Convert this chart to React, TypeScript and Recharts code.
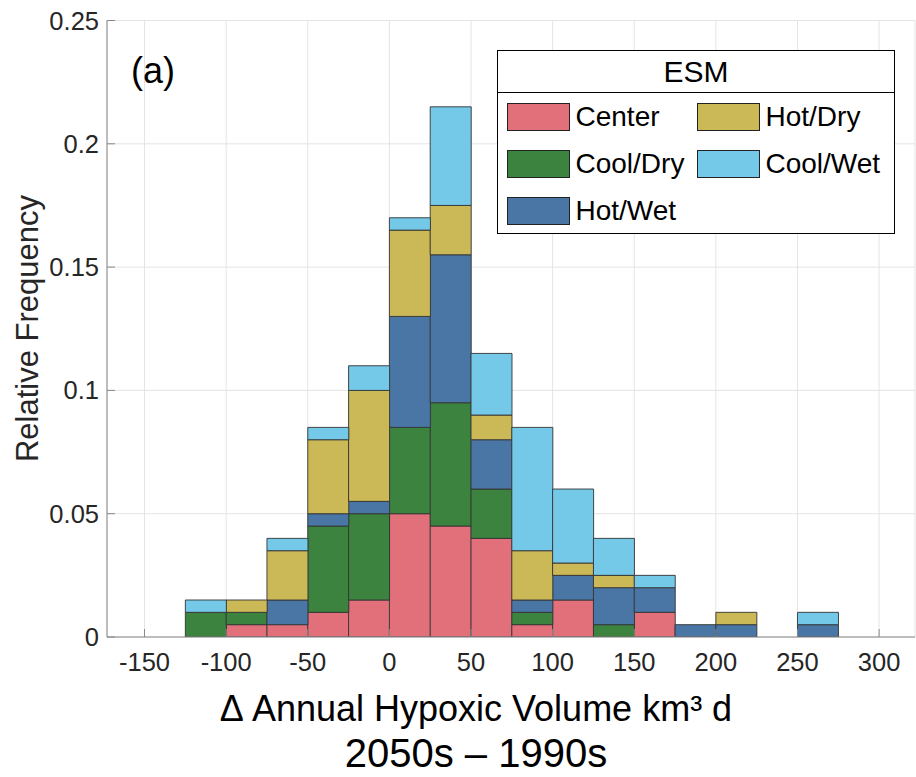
import { BarChart, Bar, XAxis, YAxis, CartesianGrid, Legend } from 'recharts';

// histogram bins (centres, bin width 25)
const binCenters = [-112.5, -87.5, -62.5, -37.5, -12.5, 12.5, 37.5, 62.5, 87.5, 112.5, 137.5, 162.5, 187.5, 212.5, 237.5, 262.5];

// relative frequency per ESM, stacked bottom -> top
const center = [0, 0.005, 0.005, 0.01, 0.015, 0.05, 0.045, 0.04, 0.005, 0.015, 0, 0.01, 0, 0, 0, 0];
const coolDry = [0.01, 0.005, 0, 0.035, 0.035, 0.035, 0.05, 0.02, 0.005, 0, 0.005, 0, 0, 0, 0, 0];
const hotWet = [0, 0, 0.01, 0.005, 0.005, 0.045, 0.06, 0.02, 0.005, 0.01, 0.015, 0.01, 0.005, 0.005, 0, 0.005];
const hotDry = [0, 0.005, 0.02, 0.03, 0.045, 0.035, 0.02, 0.01, 0.02, 0.005, 0.005, 0, 0, 0.005, 0, 0];
const coolWet = [0.005, 0, 0.005, 0.005, 0.01, 0.005, 0.04, 0.025, 0.05, 0.03, 0.015, 0.005, 0, 0, 0, 0.005];

const xTicks = [-150, -100, -50, 0, 50, 100, 150, 200, 250, 300];
const yTicks = [0, 0.05, 0.1, 0.15, 0.2, 0.25];

const SERIES = [
  { key: 'center', name: 'Center', color: '#E2707A' },
  { key: 'coolDry', name: 'Cool/Dry', color: '#3B833E' },
  { key: 'hotWet', name: 'Hot/Wet', color: '#4A76A6' },
  { key: 'hotDry', name: 'Hot/Dry', color: '#CBB958' },
  { key: 'coolWet', name: 'Cool/Wet', color: '#75C9E8' },
];

const data = binCenters.map((x, i) => ({
  x,
  center: center[i],
  coolDry: coolDry[i],
  hotWet: hotWet[i],
  hotDry: hotDry[i],
  coolWet: coolWet[i],
}));

const FONT = '"Liberation Sans", Arial, Helvetica, sans-serif';
const AXIS = '#888888';
const TICK_TEXT = { fontSize: 25.5, fill: '#262626', fontFamily: FONT };

const EsmLegend = () => (
  <div style={{ width: 398, height: 184, border: '1.5px solid #000', background: '#fff', boxSizing: 'border-box', fontFamily: FONT, color: '#000' }}>
    <div style={{ height: 42, borderBottom: '1.5px solid #000', boxSizing: 'border-box', display: 'flex', alignItems: 'center', justifyContent: 'center', fontSize: 30 }}>
      ESM
    </div>
    <div style={{ display: 'grid', gridTemplateColumns: '190px 190px', gridTemplateRows: 'repeat(3, 47px)', gridAutoFlow: 'column', paddingLeft: 8.5 }}>
      {SERIES.map((s) => (
        <div key={s.key} style={{ display: 'flex', alignItems: 'center' }}>
          <span style={{ width: 63, height: 28, background: s.color, border: '1.4px solid #222', boxSizing: 'border-box', flex: 'none' }} />
          <span style={{ marginLeft: 6, fontSize: 28, whiteSpace: 'nowrap' }}>{s.name}</span>
        </div>
      ))}
    </div>
  </div>
);

const XTitle = () => (
  <g style={{ fontFamily: FONT }} fill="#000">
    <text x={476} y={721} textAnchor="middle" fontSize={36}>
      Δ Annual Hypoxic Volume km³ d
    </text>
    <text x={476} y={767} textAnchor="middle" fontSize={40}>
      2050s – 1990s
    </text>
  </g>
);

const YTitle = () => (
  <text x={37.5} y={328.5} textAnchor="middle" fontSize={31} fill="#262626" style={{ fontFamily: FONT }} transform="rotate(-90, 37.5, 328.5)">
    Relative Frequency
  </text>
);

export default function App() {
  return (
    <div style={{ position: 'absolute', left: 0, top: 0, width: 916, height: 777, background: '#fff', fontFamily: FONT }}>
      <BarChart width={916} height={777} data={data} barCategoryGap={0} barGap={0} margin={{ top: 20.5, right: 1, bottom: 0, left: 0 }}>
        <CartesianGrid stroke="#e4e4e4" strokeWidth={1} />
        <XAxis
          dataKey="x"
          type="number"
          domain={[-173, 322]}
          allowDataOverflow
          ticks={xTicks}
          height={140}
          stroke={AXIS}
          tickSize={-8}
          tickMargin={24}
          tick={TICK_TEXT}
          label={{ content: () => <XTitle /> }}
        />
        <XAxis xAxisId="top" orientation="top" dataKey="x" type="number" domain={[-173, 322]} allowDataOverflow ticks={xTicks} height={0} stroke={AXIS} tickSize={-8} tick={false} />
        <YAxis
          type="number"
          domain={[0, 0.25]}
          allowDataOverflow
          ticks={yTicks}
          width={107}
          stroke={AXIS}
          tickSize={-8}
          tickMargin={16}
          tick={TICK_TEXT}
          label={{ content: () => <YTitle /> }}
        />
        <YAxis yAxisId="right" orientation="right" type="number" domain={[0, 0.25]} allowDataOverflow ticks={yTicks} width={0} stroke={AXIS} tickSize={-8} tick={false} />
        <Legend
          layout="vertical"
          align="center"
          verticalAlign="middle"
          wrapperStyle={{ left: 497, top: 50, width: 398, height: 184 }}
          content={() => <EsmLegend />}
        />
        {SERIES.map((s) => (
          <Bar key={s.key} dataKey={s.key} name={s.name} stackId="esm" fill={s.color} stroke="#333" strokeWidth={0.9} isAnimationActive={false} />
        ))}
      </BarChart>
      <div style={{ position: 'absolute', left: 131, top: 52.5, fontSize: 36, lineHeight: '36px', color: '#000', fontFamily: FONT }}>(a)</div>
    </div>
  );
}
